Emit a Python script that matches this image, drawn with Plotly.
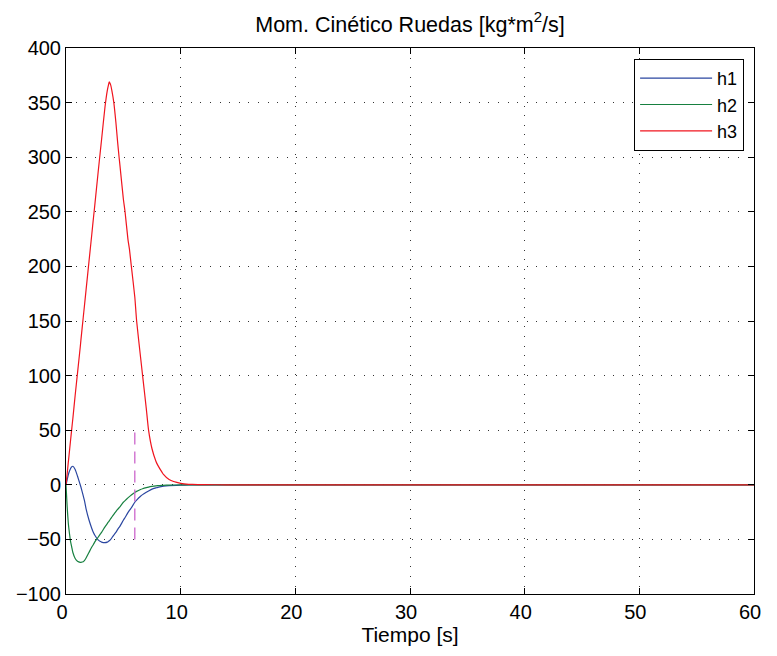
import plotly.graph_objects as go

# Time samples [s]
t = [0, 0.1, 0.2, 0.25, 0.4, 0.5, 0.6, 0.8, 1.0, 1.24, 1.3, 1.5, 1.6, 1.75, 2.0,
     2.25, 2.4, 2.5, 2.8, 3.0, 3.1, 3.4, 3.6, 3.7, 3.77, 3.9, 4.0, 4.17, 4.35, 4.5,
     4.63, 4.7, 5.0, 5.15, 5.4, 5.53, 5.7, 6.0, 6.16, 6.5, 6.68, 7.0, 7.2, 7.5,
     7.84, 8.0, 8.41, 8.5, 8.99, 10.0, 10.7, 11.0, 12.0, 14.0, 20.0, 30.0, 40.0, 50.0, 60.0]

h1 = [0, 4.5, 9, 11, 15, 16.5, 17, 14, 8, 0, -2, -10, -14, -22, -32,
      -40, -44, -46, -50.5, -52, -52.5, -53, -52.5, -51.8, -51.3, -50, -48.5, -46, -43.5, -41,
      -39, -38, -32.5, -30, -25.5, -23.5, -21, -16, -14, -10.5, -9, -6.8, -5.6, -4.0,
      -2.8, -2.3, -1.5, -1.3, -0.7, -0.3, -0.15, -0.1, 0, 0, 0, 0, 0, 0, 0]

h2 = [0, -20, -35, -40, -52, -57, -62, -67.5, -70, -71, -71, -70.5, -69.5, -67, -62,
      -57, -54.5, -52.5, -48, -45, -43.5, -38.5, -35.5, -34, -33, -31, -29.5, -27, -24.5, -22.5,
      -21, -20.2, -16, -14.5, -12, -10.8, -9.3, -7, -6, -4.3, -3.6, -2.6, -2.1, -1.5,
      -1.0, -0.8, -0.5, -0.45, -0.3, -0.1, -0.05, 0, 0, 0, 0, 0, 0, 0, 0]

h3 = [0, 10, 20.5, 25.5, 41, 51, 61, 82, 102, 126, 132.5, 153, 163, 178.5, 204,
      229.5, 245, 255, 286, 306, 316, 346, 361, 366, 369, 366, 361, 350, 332, 314,
      300, 293, 262, 250, 225, 216, 200, 172, 150, 117, 100, 70, 50, 33,
      21.6, 18, 10.9, 9.5, 4.8, 1.3, 0.4, 0.3, 0.1, 0, 0, 0, 0, 0, 0]

# Reference marker (dashed) at t = 6 s
mark_t = [6, 6]
mark_y = [-50, 50]

names = ["h1", "h2", "h3"]
colors = ["#2a46a0", "#178040", "#f0141e"]

fig = go.Figure()
for name, y, c in zip(names, [h1, h2, h3], colors):
    fig.add_trace(go.Scatter(x=t, y=y, mode="lines", name=name,
                             line=dict(color=c, width=1.2, shape="spline", smoothing=0.5)))

fig.add_trace(go.Scatter(x=mark_t, y=mark_y, mode="lines", showlegend=False,
                         line=dict(color="#cc66cc", width=1.3, dash="12px,7px")))

font = "Liberation Sans, Arial, Helvetica, sans-serif"
axis_common = dict(showline=True, linecolor="black", linewidth=1, mirror="ticks",
                   ticks="inside", ticklen=6, tickcolor="black",
                   showgrid=True, gridcolor="#333333", griddash="1px,8.6px", gridwidth=1,
                   zeroline=False, tickfont=dict(size=20, color="black", family=font))

# The page body keeps its default 8px margin, so the figure is sized to fit inside it
fig.update_layout(
    width=761, height=640,
    margin=dict(l=58, r=8, t=40, b=52),
    paper_bgcolor="white", plot_bgcolor="white",
    title=dict(text="Mom. Cinético Ruedas [kg*m<sup>2</sup>/s]", xref="paper", x=0.5,
               xanchor="center", y=0.975, yanchor="middle",
               font=dict(size=21.5, color="black", family=font)),
    xaxis=dict(range=[0, 60], dtick=10, ticklabelshift=-4,
               title=dict(text="Tiempo [s]", standoff=2,
                          font=dict(size=21, color="black", family=font)), **axis_common),
    yaxis=dict(range=[-100, 400], dtick=50, **axis_common),
    legend=dict(x=0.9856, y=0.98, xanchor="right", yanchor="top",
                bordercolor="black", borderwidth=1, bgcolor="white",
                font=dict(size=18, color="black", family=font),
                tracegroupgap=0, itemwidth=72),
    showlegend=True,
)

fig.write_html("out.html", config={"displayModeBar": False})
